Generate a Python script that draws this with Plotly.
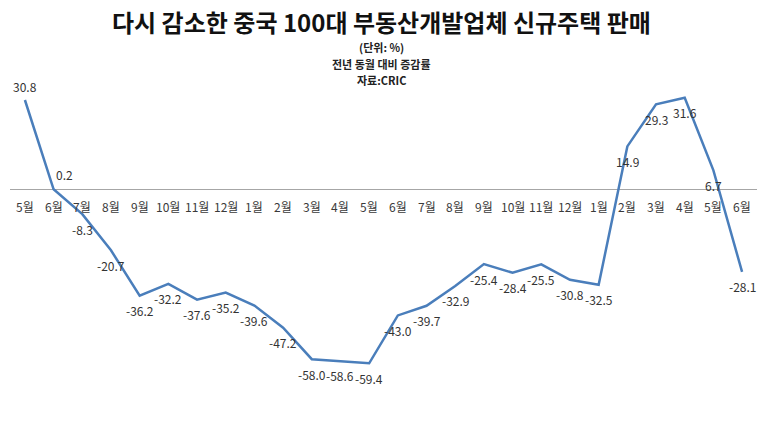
import plotly.graph_objects as go

months = ["5월", "6월", "7월", "8월", "9월", "10월", "11월", "12월",
          "1월", "2월", "3월", "4월", "5월", "6월", "7월", "8월", "9월", "10월", "11월", "12월",
          "1월", "2월", "3월", "4월", "5월", "6월"]
values = [30.8, 0.2, -8.3, -20.7, -36.2, -32.2, -37.6, -35.2,
          -39.6, -47.2, -58.0, -58.6, -59.4, -43.0, -39.7, -32.9, -25.4, -28.4, -25.5, -30.8,
          -32.5, 14.9, 29.3, 31.6, 6.7, -28.1]

title = "다시 감소한 중국 100대 부동산개발업체 신규주택 판매"
subtitles = ["(단위: %)", "전년 동월 대비 증감률", "자료:CRIC"]

FONT = "Noto Sans CJK KR"
xs = list(range(len(values)))

fig = go.Figure()
fig.add_trace(go.Scatter(
    x=xs, y=values, mode="lines",
    line=dict(color="#4A7EBB", width=2.5),
    hoverinfo="skip", showlegend=False,
))

annotations = []
# month labels along the zero line
for i, m in enumerate(months):
    annotations.append(dict(
        x=i, y=0, xref="x", yref="y", text=m, showarrow=False,
        yshift=-17, yanchor="middle",
        font=dict(family=FONT, size=12, color="#3a3a3a"),
    ))
# data labels
for i, v in enumerate(values):
    if i == 0:
        xs_, ys_ = 0, 14
    elif i == 1:
        xs_, ys_ = 11, 15
    else:
        xs_, ys_ = 0, -15
    annotations.append(dict(
        x=i, y=v, xref="x", yref="y", text=f"{v:.1f}", showarrow=False,
        xshift=xs_, yshift=ys_, yanchor="middle",
        font=dict(family=FONT, size=12, color="#333333"),
    ))
# title and subtitles
annotations.append(dict(
    x=0.5, y=1, xref="paper", yref="paper", text=f"<b>{title}</b>", showarrow=False,
    xshift=-2, yshift=64, yanchor="middle", borderpad=0,
    font=dict(family=FONT, size=24, color="#111111"),
))
for sub, sh in zip(subtitles, [38, 21, 5]):
    annotations.append(dict(
        x=0.5, y=1, xref="paper", yref="paper", text=f"<b>{sub}</b>", showarrow=False,
        xshift=-2, yshift=sh, yanchor="middle", borderpad=0,
        font=dict(family=FONT, size=11, color="#222222"),
    ))

fig.update_layout(
    width=765, height=430,
    margin=dict(l=10, r=8, t=85, b=20),
    paper_bgcolor="white", plot_bgcolor="white",
    xaxis=dict(range=[-0.52, 25.52], showgrid=False, zeroline=False,
               showticklabels=False, showline=False, fixedrange=True),
    yaxis=dict(range=[-75.4, 35.94], showgrid=False, zeroline=True,
               zerolinecolor="#A6A6A6", zerolinewidth=1,
               showticklabels=False, showline=False, fixedrange=True),
    annotations=annotations,
    font=dict(family=FONT),
)

fig.write_html("out.html", config={"displayModeBar": False})
